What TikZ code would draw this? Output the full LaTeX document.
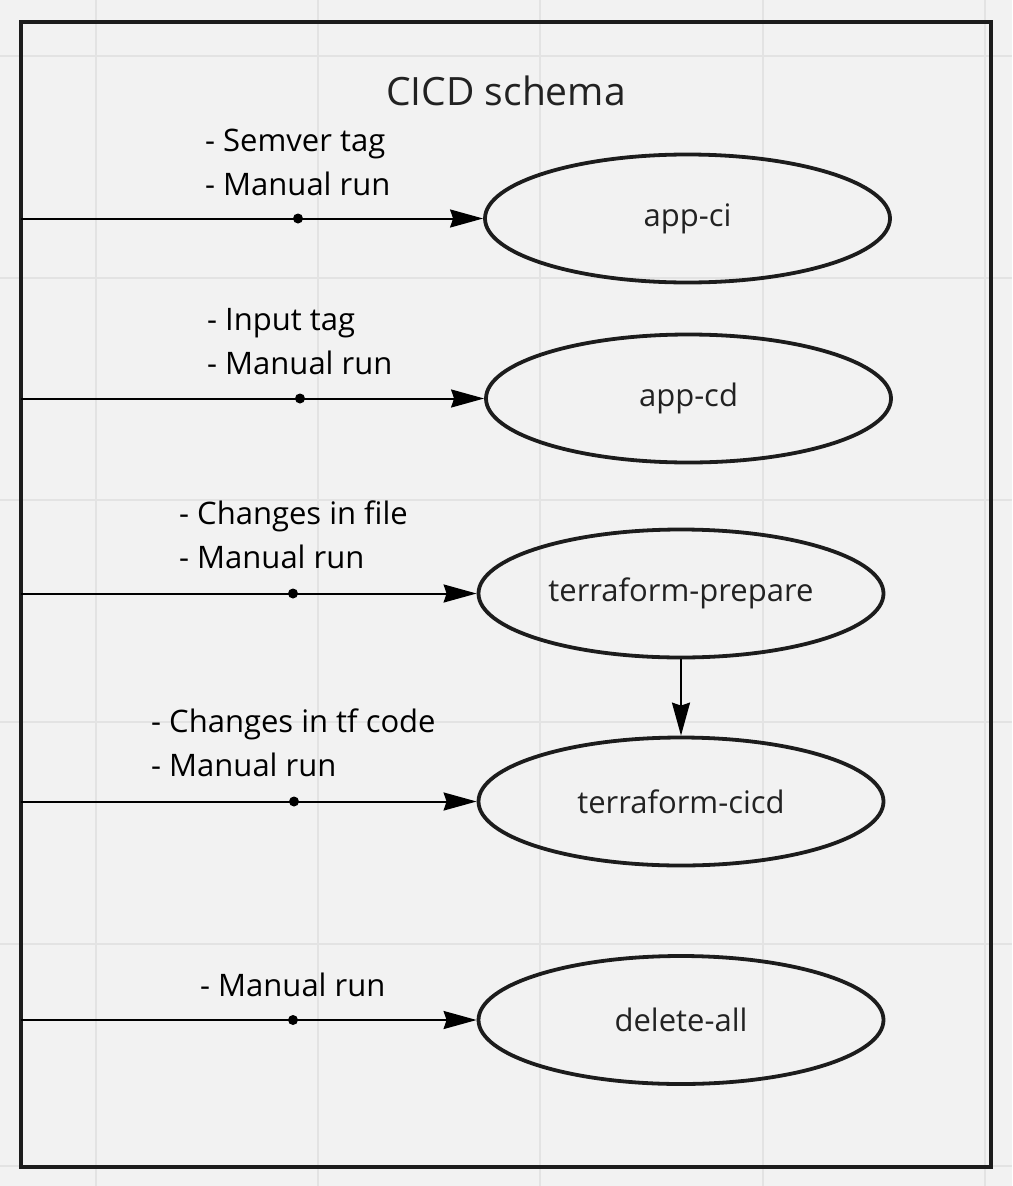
\documentclass[tikz,border=0pt]{standalone}
\usepackage{fontspec}
\setmainfont{Open Sans}
\usetikzlibrary{arrows.meta,shapes.geometric}
\definecolor{bg}{HTML}{F2F2F2}
\definecolor{gridc}{HTML}{E3E3E3}
\definecolor{ink}{HTML}{1C1C1C}
\definecolor{etext}{HTML}{222222}
\begin{document}
\begin{tikzpicture}[x=1pt,y=-1pt,
  job/.style={ellipse, draw=ink, line width=3.8pt, minimum width=405pt, minimum height=128pt, inner sep=0pt, font=\fontsize{31}{37}\selectfont, text=etext},
  lbl/.style={anchor=base west, font=\fontsize{31}{37}\selectfont, inner sep=0pt, text=black},
  conn/.style={line width=2pt, draw=black, -{Stealth[length=33pt,width=18pt,inset=3pt]}},
  dotmark/.style={circle, fill=black, inner sep=0pt, minimum size=10pt},
  gridline/.style={draw=gridc, line width=2pt}]
% background and bounding box
\fill[bg] (0,0) rectangle (1012,1186);
\useasboundingbox (0,0) rectangle (1012,1186);
% grid
\foreach \gx in {96,318,540,763,985} \draw[gridline] (\gx,0) -- (\gx,1186);
\foreach \gy in {56,278,500,722,944,1166} \draw[gridline] (0,\gy) -- (1012,\gy);
% frame
\draw[ink, line width=4pt] (21,21.5) rectangle (991,1167);
% title
\node[anchor=base, font=\fontsize{39}{45}\selectfont, text=etext, inner sep=0pt] (title) at (506,105) {CICD schema};
% ellipses
\node[job] (ci) at (687.5,218.5) {app-ci};
\node[job] (cd) at (688.5,398.5) {app-cd};
\node[job] (prep) at (681,593.5) {terraform-prepare};
\node[job] (cicd) at (681,801.5) {terraform-cicd};
\node[job] (del) at (681,1020) {delete-all};
% labels
\node[lbl] (l1a) at (205,151) {- Semver tag};
\node[lbl] (l1b) at (205,195) {- Manual run};
\node[lbl] (l2a) at (207,330) {- Input tag};
\node[lbl] (l2b) at (207,374) {- Manual run};
\node[lbl] (l3a) at (179,524) {- Changes in file};
\node[lbl] (l3b) at (179,568) {- Manual run};
\node[lbl] (l4a) at (151,732) {- Changes in tf code};
\node[lbl] (l4b) at (151,776) {- Manual run};
\node[lbl] (l5a) at (200,996) {- Manual run};
% connector start points
\coordinate (s1) at (21,218.5);
\coordinate (s2) at (21,398.5);
\coordinate (s3) at (21,593.5);
\coordinate (s4) at (21,801.5);
\coordinate (s5) at (21,1020);
% connectors
\draw[conn] (s1) -- (ci.west);
\draw[conn] (s2) -- (cd.west);
\draw[conn] (s3) -- (prep.west);
\draw[conn] (s4) -- (cicd.west);
\draw[conn] (s5) -- (del.west);
\draw[conn] (prep.south) -- (cicd.north);
% dots
\node[dotmark] (d1) at (298,218.5) {};
\node[dotmark] (d2) at (300,398.5) {};
\node[dotmark] (d3) at (293,593.5) {};
\node[dotmark] (d4) at (294,801.5) {};
\node[dotmark] (d5) at (293,1020) {};
\end{tikzpicture}
\end{document}
